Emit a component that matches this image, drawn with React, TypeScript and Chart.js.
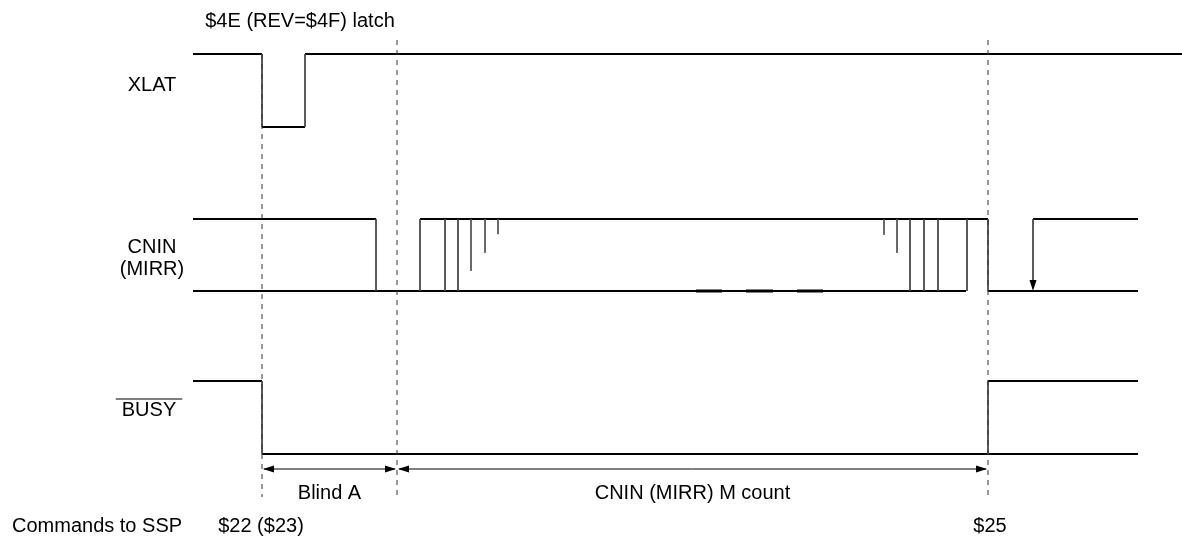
import React, { useEffect, useRef } from "react";
import { Chart, registerables } from "chart.js";

Chart.register(...registerables);

// Time axis (arbitrary units) and level axis
const X_RANGE = [0, 1182];
const Y_RANGE = [0, 537];

// Signal lanes: level values for high / low
const laneHigh = [54, 219, 381];
const laneLow = [127, 291, 454];

// XLAT
const xlatHigh = [[193, 262], [305, 1182]];
const xlatLow = [[262, 305]];
const xlatEdges = [262, 305];

// CNIN (MIRR)
const cninHigh = [[193, 376], [420, 988], [1033, 1138]];
const cninLow = [[193, 966], [988, 1138]];
const cninEdges = [376, 420, 445, 458, 910, 924, 938, 967, 988];
const cninGlitchX = [471, 485, 498, 884, 897];
const cninGlitchDepth = [0.72, 0.47, 0.21, 0.22, 0.47];
const cninLowMarks = [[696, 722], [746, 773], [797, 823]];
const cninArrowX = 1033;

// BUSY
const busyHigh = [[193, 262], [988, 1138]];
const busyLow = [[262, 1138]];
const busyEdges = [262, 988];

// Timing markers
const markerX = [262, 397, 988];
const markerTop = [54, 40, 40];
const markerBottom = 497;

// Dimension arrows
const dimSpans = [[262, 397], [397, 988]];
const dimLevel = 469;

// Texts
const signalLabels = ["XLAT", "CNIN", "(MIRR)", "BUSY"];
const signalLabelY = [85, 247, 269, 410];
const signalLabelX = [152, 152, 152, 149];
const dimLabels = ["Blind A", "CNIN (MIRR) M count"];
const dimLabelY = 493;
const topLabel = "$4E (REV=$4F) latch";
const topLabelPos = [300, 21];
const cmdTitle = "Commands to SSP";
const cmdTitleX = 12;
const cmdLabels = ["$22 ($23)", "$25"];
const cmdLabelX = [261, 990];
const cmdY = 526;

type P = { x: number; y: number | null };

function spansToPoints(spans: number[][], level: number): P[] {
  const pts: P[] = [];
  spans.forEach(([a, b]) => {
    pts.push({ x: a, y: level }, { x: b, y: level }, { x: b, y: null });
  });
  return pts;
}
function edgesToPoints(xs: number[], top: number, bottom: number): P[] {
  const pts: P[] = [];
  xs.forEach((x) => {
    pts.push({ x, y: top }, { x, y: bottom }, { x, y: null });
  });
  return pts;
}

const FONT = '20px "Liberation Sans", Arial, sans-serif';

const overlayPlugin = {
  id: "overlay",
  afterDatasetsDraw(chart: any) {
    const { ctx, scales } = chart;
    const xs = scales.x;
    const ys = scales.y;
    const px = (v: number) => xs.getPixelForValue(v);
    const py = (v: number) => ys.getPixelForValue(v);
    ctx.save();
    ctx.fillStyle = "#000";
    const head = (tx: number, ty: number, dx: number, dy: number) => {
      const len = 11;
      const hw = 3.5;
      const bx = tx - dx * len;
      const by = ty - dy * len;
      ctx.beginPath();
      ctx.moveTo(tx, ty);
      ctx.lineTo(bx - dy * hw, by + dx * hw);
      ctx.lineTo(bx + dy * hw, by - dx * hw);
      ctx.closePath();
      ctx.fill();
    };
    dimSpans.forEach(([a, b]) => {
      head(px(a) + 1, py(dimLevel), -1, 0);
      head(px(b) - 1, py(dimLevel), 1, 0);
    });
    head(px(cninArrowX), py(laneLow[1]), 0, 1);

    ctx.font = FONT;
    ctx.textBaseline = "middle";
    ctx.textAlign = "center";
    signalLabels.forEach((t, i) => {
      ctx.fillText(t, px(signalLabelX[i]), py(signalLabelY[i]));
      if (t === "BUSY") {
        const w = ctx.measureText(t).width + 12;
        ctx.fillRect(px(signalLabelX[i]) - w / 2, py(signalLabelY[i]) - 11.5, w, 1);
      }
    });
    dimSpans.forEach(([a, b], i) => {
      ctx.fillText(dimLabels[i], px((a + b) / 2), py(dimLabelY));
    });
    ctx.fillText(topLabel, px(topLabelPos[0]), py(topLabelPos[1]));
    cmdLabels.forEach((t, i) => {
      ctx.fillText(t, px(cmdLabelX[i]), py(cmdY));
    });
    ctx.textAlign = "left";
    ctx.fillText(cmdTitle, px(cmdTitleX), py(cmdY));
    ctx.restore();
  },
};

export default function App() {
  const ref = useRef<HTMLCanvasElement>(null);
  useEffect(() => {
    if (!ref.current) return;
    const lvl = (hi: number, lo: number, f: number) => hi + (lo - hi) * f;
    const horiz: P[] = [
      ...spansToPoints(xlatHigh, laneHigh[0]),
      ...spansToPoints(xlatLow, laneLow[0]),
      ...spansToPoints(cninHigh, laneHigh[1]),
      ...spansToPoints(cninLow, laneLow[1]),
      ...spansToPoints(busyHigh, laneHigh[2]),
      ...spansToPoints(busyLow, laneLow[2]),
    ];
    const edges: P[] = [
      ...edgesToPoints(xlatEdges, laneHigh[0], laneLow[0]),
      ...edgesToPoints(cninEdges, laneHigh[1], laneLow[1]),
      ...edgesToPoints(busyEdges, laneHigh[2], laneLow[2]),
      ...edgesToPoints([cninArrowX], laneHigh[1], laneLow[1] - 8),
    ];
    const glitches: P[] = [];
    cninGlitchX.forEach((x, i) => {
      glitches.push(
        { x, y: laneHigh[1] },
        { x, y: lvl(laneHigh[1], laneLow[1], cninGlitchDepth[i]) },
        { x, y: null }
      );
    });
    const markers: P[] = [];
    markerX.forEach((x, i) => {
      markers.push({ x, y: markerTop[i] }, { x, y: markerBottom }, { x, y: null });
    });
    const dims: P[] = [];
    dimSpans.forEach(([a, b]) => {
      dims.push({ x: a + 2, y: dimLevel }, { x: b - 2, y: dimLevel }, { x: b, y: null });
    });
    const marks = spansToPoints(cninLowMarks, laneLow[1]);

    const common = { showLine: true, pointRadius: 0, spanGaps: false, fill: false, tension: 0 };
    const chart = new Chart(ref.current, {
      type: "scatter",
      data: {
        datasets: [
          { ...common, label: "markers", data: markers, borderColor: "#333", borderWidth: 1, borderDash: [5, 5] },
          { ...common, label: "edges", data: edges, borderColor: "#444", borderWidth: 1 },
          { ...common, label: "glitches", data: glitches, borderColor: "#555", borderWidth: 1 },
          { ...common, label: "levels", data: horiz, borderColor: "#000", borderWidth: 2 },
          { ...common, label: "marks", data: marks, borderColor: "#000", borderWidth: 3 },
          { ...common, label: "dims", data: dims, borderColor: "#000", borderWidth: 1 },
        ],
      },
      options: {
        animation: false,
        responsive: true,
        maintainAspectRatio: false,
        layout: { padding: 0 },
        plugins: { legend: { display: false }, tooltip: { enabled: false } },
        scales: {
          x: { type: "linear", min: X_RANGE[0], max: X_RANGE[1], display: false },
          y: { type: "linear", min: Y_RANGE[0], max: Y_RANGE[1], reverse: true, display: false },
        },
      },
      plugins: [overlayPlugin],
    });
    return () => chart.destroy();
  }, []);
  return (
    <div style={{ position: "absolute", left: 0, top: 0, width: 1182, height: 537, background: "#fff" }}>
      <canvas ref={ref} />
    </div>
  );
}
